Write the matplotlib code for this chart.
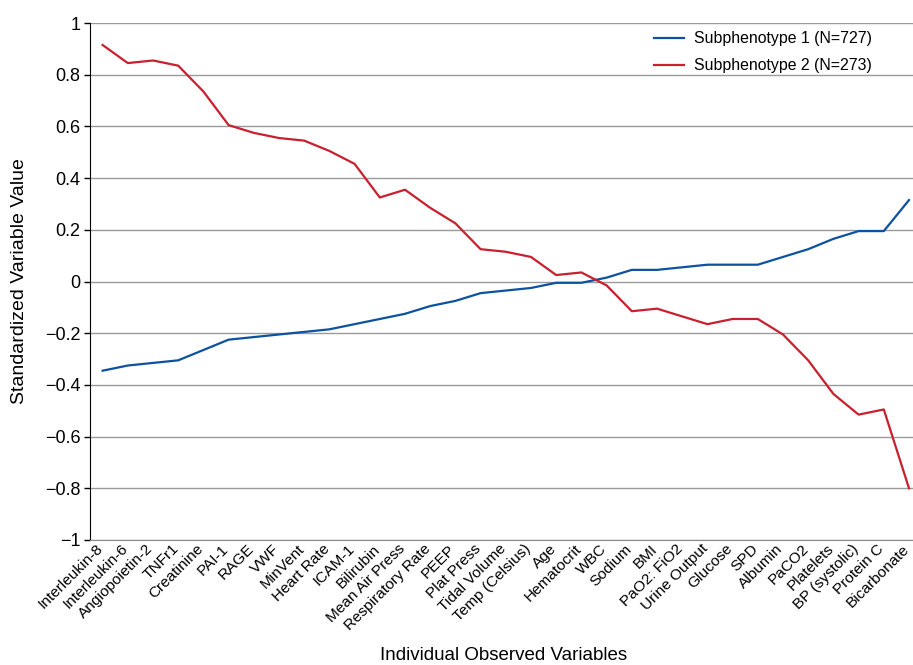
import matplotlib
matplotlib.use("Agg")
import matplotlib.pyplot as plt
from matplotlib.transforms import ScaledTranslation

plt.rcParams['font.family'] = ['Liberation Sans', 'DejaVu Sans']

variables = [
    "Interleukin-8", "Interleukin-6", "Angiopoietin-2", "TNFr1", "Creatinine",
    "PAI-1", "RAGE", "VWF", "MinVent", "Heart Rate", "ICAM-1", "Bilirubin",
    "Mean Air Press", "Respiratory Rate", "PEEP", "Plat Press", "Tidal Volume",
    "Temp (Celsius)", "Age", "Hematocrit", "WBC", "Sodium", "BMI",
    "PaO2: FiO2", "Urine Output", "Glucose", "SPD", "Albumin", "PaCO2",
    "Platelets", "BP (systolic)", "Protein C", "Bicarbonate",
]

subphenotype1 = [
    -0.345, -0.325, -0.315, -0.305, -0.265, -0.225, -0.215, -0.205, -0.195,
    -0.185, -0.165, -0.145, -0.125, -0.095, -0.075, -0.045, -0.035, -0.025,
    -0.005, -0.005, 0.015, 0.045, 0.045, 0.055, 0.065, 0.065, 0.065, 0.095,
    0.125, 0.165, 0.195, 0.195, 0.315,
]

subphenotype2 = [
    0.915, 0.845, 0.855, 0.835, 0.735, 0.605, 0.575, 0.555, 0.545, 0.505,
    0.455, 0.325, 0.355, 0.285, 0.225, 0.125, 0.115, 0.095, 0.025, 0.035,
    -0.015, -0.115, -0.105, -0.135, -0.165, -0.145, -0.145, -0.205, -0.305,
    -0.435, -0.515, -0.495, -0.800,
]

label1 = "Subphenotype 1 (N=727)"
label2 = "Subphenotype 2 (N=273)"
y_ticks = [1, 0.8, 0.6, 0.4, 0.2, 0, -0.2, -0.4, -0.6, -0.8, -1]

fig = plt.figure(figsize=(9.13, 6.65), dpi=100)
n = len(variables)
step_px = 25.2
left_px, right_px = 90, 90 + step_px * n
ax = fig.add_axes([left_px / 913, (665 - 540) / 665,
                   (right_px - left_px) / 913, (540 - 23) / 665])

x = list(range(n))
ax.plot(x, subphenotype1, color="#0d51a1", lw=1.6, label=label1)
ax.plot(x, subphenotype2, color="#c91f2e", lw=1.6, label=label2)

ax.set_xlim(-0.5, n - 0.5)
ax.set_ylim(-1, 1)
ax.set_yticks(y_ticks)
ax.set_yticklabels([("\u2212" if v < 0 else "") + f"{abs(v):g}" for v in y_ticks])
ax.yaxis.grid(True, color="#9a9a9a", lw=1.0)
ax.set_axisbelow(True)

ax.set_xticks(x)
ax.set_xticklabels(variables, rotation=45, ha="right", rotation_mode="anchor",
                   fontsize=11.1)
ax.tick_params(axis="x", length=0, pad=2)
ax.tick_params(axis="y", length=4, width=1, labelsize=13, pad=3)

# nudge the slanted category labels a little to the left
shift = ScaledTranslation(-7 / 100, 1 / 100, fig.dpi_scale_trans)
for lbl in ax.get_xticklabels():
    lbl.set_transform(lbl.get_transform() + shift)

for side in ("top", "right"):
    ax.spines[side].set_visible(False)
ax.spines["left"].set_color("black")
ax.spines["bottom"].set_color("#8a8a8a")

ax.set_ylabel("Standardized Variable Value", fontsize=14)
ax.yaxis.set_label_coords(-0.074, 0.5)
fig.text(504 / 913, 1 - 656 / 665, "Individual Observed Variables",
         ha="center", va="center", fontsize=13.5)

leg = ax.legend(loc="upper left", bbox_to_anchor=(640 / 913, 1 - 17 / 665),
                bbox_transform=fig.transFigure, frameon=False, fontsize=11.4,
                handlelength=1.9, handletextpad=0.6, labelspacing=0.75)

fig.savefig("out.png", dpi=100)
